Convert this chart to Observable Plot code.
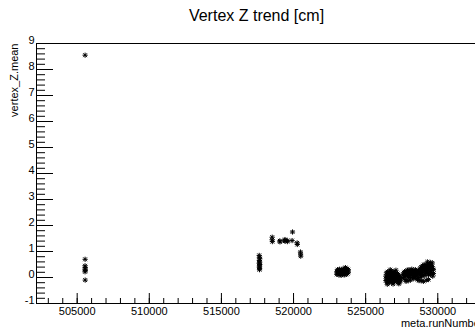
<!DOCTYPE html>
<html>
<head>
<meta charset="utf-8">
<script src="https://cdn.jsdelivr.net/npm/d3@7"></script>
<script src="https://cdn.jsdelivr.net/npm/@observablehq/plot@0.6"></script>
<style>
  html, body { margin: 0; padding: 0; background: #fff; overflow: hidden; width: 475px; height: 331px; }
  #wrap { position: relative; width: 475px; height: 331px; overflow: hidden; }
  #title { position: absolute; left: 0; top: 8px; width: 513px; text-align: center;
           font: 16px "Liberation Sans", Arial, sans-serif; line-height: 16px; color: #000; }
  #chart { position: absolute; left: 0; top: 0; width: 484px; }
  #chart svg { max-width: none !important; width: 484px; height: 331px; }
</style>
</head>
<body>
<div id="wrap">
  <div id="chart"></div>
  <div id="title">Vertex Z trend [cm]</div>
</div>
<script>
// ---- data ----
const runNumber = [
  // early runs
  505550, 505550, 505545, 505555, 505550, 505560, 505545, 505555,
  // 517.6k column
  517620, 517640, 517660, 517630, 517650, 517620, 517660, 517640, 517630, 517650, 517640,
  // 518.5k - 520.5k row
  518520, 518520, 518530, 519050, 519060, 519390, 519400, 519410, 519560, 519570,
  519930, 519900, 520250, 520260, 520480, 520490, 520500,
  // 523k cluster
  523000, 523000, 523050, 523050, 523100, 523100, 523150, 523150, 523200, 523200,
  523250, 523250, 523300, 523300, 523350, 523350, 523400, 523400, 523450, 523450,
  523500, 523500, 523550, 523550, 523600, 523600, 523650, 523650, 523700, 523700,
  523750, 523750, 523800, 523800,
  // 526.4k - 527.4k
  526400, 526400, 526440, 526440, 526480, 526480, 526520, 526520, 526560, 526560,
  526600, 526600, 526640, 526640, 526680, 526680, 526720, 526720, 526760, 526760,
  526800, 526800, 526840, 526840, 526880, 526880, 526920, 526920, 526960, 526960,
  527000, 527000, 527040, 527040, 527080, 527080, 527120, 527120, 527160, 527160,
  527200, 527200, 527240, 527240, 527280, 527280, 527320, 527320, 527360, 527360,
  527400, 527400, 526500, 526700, 526900, 527100, 527300,
  // 527.6k - 528.75k
  527600, 527600, 527650, 527650, 527700, 527700, 527750, 527750, 527800, 527800,
  527850, 527850, 527900, 527900, 527950, 527950, 528000, 528000, 528050, 528050,
  528100, 528100, 528150, 528150, 528200, 528200, 528250, 528250, 528300, 528300,
  528350, 528350, 528400, 528400, 528450, 528450, 528500, 528500, 528550, 528550,
  528600, 528600, 528650, 528650, 528700, 528700, 528750, 528750,
  // 528.8k - 529.7k
  528800, 528800, 528850, 528850, 528850, 528900, 528900, 528950, 528950,
  529000, 529000, 529000, 529050, 529050, 529100, 529100, 529150, 529150,
  529200, 529200, 529200, 529250, 529250, 529300, 529300, 529350, 529350, 529350,
  529400, 529400, 529450, 529450, 529500, 529500, 529550, 529550, 529600, 529600,
  529650, 529650, 529700, 529700, 529280, 529480, 529620
];
const zMean = [
  8.55, 0.70, 0.45, 0.38, 0.32, 0.27, 0.22, -0.10,
  0.85, 0.78, 0.72, 0.65, 0.60, 0.55, 0.50, 0.45, 0.40, 0.35, 0.30,
  1.55, 1.45, 1.38, 1.41, 1.37, 1.43, 1.40, 1.46, 1.42, 1.38,
  1.75, 1.42, 1.33, 1.27, 0.98, 0.90, 0.82,
  0.22, 0.12, 0.30, 0.18, 0.15, 0.25, 0.28, 0.10, 0.20, 0.32,
  0.14, 0.26, 0.22, 0.08, 0.30, 0.16, 0.12, 0.24, 0.20, 0.28,
  0.35, 0.15, 0.26, 0.10, 0.38, 0.20, 0.30, 0.12, 0.22, 0.34,
  0.28, 0.15, 0.20, 0.30,
  0.05, -0.12, 0.18, -0.05, 0.10, -0.18, 0.22, 0.00, 0.08, -0.15,
  0.15, -0.08, 0.02, -0.20, 0.20, -0.10, 0.12, -0.02, 0.25, -0.14,
  0.06, -0.17, 0.16, -0.06, 0.10, -0.12, 0.22, 0.03, 0.14, -0.09,
  0.20, -0.16, 0.08, -0.04, 0.18, -0.10, 0.12, 0.00, 0.05, -0.13,
  0.15, -0.07, 0.10, -0.18, 0.02, -0.10, 0.08, -0.20, -0.05, -0.15,
  0.00, -0.12, -0.26, 0.30, -0.25, 0.28, -0.24,
  0.12, -0.02, 0.18, 0.05, 0.22, 0.08, 0.15, -0.08, 0.25, -0.15,
  0.20, 0.10, 0.28, 0.05, 0.16, -0.12, 0.30, 0.12, 0.22, 0.00,
  0.26, -0.10, 0.18, 0.08, 0.32, 0.15, 0.24, 0.02, 0.20, -0.05,
  0.28, 0.10, 0.22, 0.04, 0.30, 0.14, 0.18, -0.03, 0.25, 0.06,
  0.20, -0.08, 0.28, 0.12, 0.15, -0.12, 0.22, 0.00,
  0.35, 0.10, 0.40, 0.18, -0.12, 0.30, 0.05, 0.45, 0.22,
  0.38, 0.12, -0.15, 0.50, 0.28, 0.32, 0.08, 0.42, 0.20,
  0.48, 0.25, -0.10, 0.36, 0.15, 0.52, 0.30, 0.40, 0.10, -0.08,
  0.45, 0.22, 0.50, 0.32, 0.38, 0.12, 0.46, 0.26, 0.42, 0.18,
  0.35, 0.05, 0.30, 0.15, 0.60, 0.58, 0.56
];
const xMajorTicks = [505000, 510000, 515000, 520000, 525000, 530000];
const xTickLabels = ["505000", "510000", "515000", "520000", "525000", "530000"];
const yMajorTicks = [-1, 0, 1, 2, 3, 4, 5, 6, 7, 8, 9];
const yTickLabels = ["-1", "0", "1", "2", "3", "4", "5", "6", "7", "8", "9"];
const xMinorTicks = d3.range(503000, 533001, 1000);
const yMinorTicks = d3.range(-1, 9.0001, 0.2).map(v => Math.round(v * 10) / 10);

const xAxisTitle = "meta.runNumber";
const yAxisTitle = "vertex_Z.mean";

const points = runNumber.map((r, i) => ({run: r, z: zMean[i]}));

const W = 484, H = 331, mT = 43, mB = 28, mL = 36, mR = 1;
const frameW = W - mL - mR, frameH = H - mT - mB;

const chart = Plot.plot({
  width: W,
  height: H,
  marginTop: mT,
  marginBottom: mB,
  marginLeft: mL,
  marginRight: mR,
  x: {domain: [502180, 533170], label: null},
  y: {domain: [-1, 9], label: null},
  style: {fontFamily: "'Liberation Sans', Arial, sans-serif", fontSize: "11px", color: "#000", background: "#fff", maxWidth: "none"},
  marks: [
    // inward ticks
    Plot.tickX(xMinorTicks, {x: d => d, stroke: "#000", insetTop: frameH - 5}),
    Plot.tickX(xMajorTicks, {x: d => d, stroke: "#000", insetTop: frameH - 10}),
    Plot.tickY(yMinorTicks, {y: d => d, stroke: "#000", insetRight: frameW - 9}),
    Plot.tickY(yMajorTicks, {y: d => d, stroke: "#000", insetRight: frameW - 17}),
    Plot.frame({stroke: "#000"}),
    // tick labels
    Plot.axisX(xMajorTicks, {anchor: "bottom", tickSize: 0, tickPadding: 4, label: null,
      tickFormat: (d) => xTickLabels[xMajorTicks.indexOf(d)]}),
    Plot.axisY(yMajorTicks, {anchor: "left", tickSize: 0, tickPadding: 2, dy: -3.5, label: null,
      tickFormat: (d) => yTickLabels[yMajorTicks.indexOf(d)]}),
    // axis titles
    Plot.text([xAxisTitle], {frameAnchor: "bottom-right", textAnchor: "end", lineAnchor: "middle", dy: 20, fontSize: 11}),
    Plot.text([yAxisTitle], {frameAnchor: "top-left", rotate: -90, textAnchor: "end", lineAnchor: "middle", dx: -22, fontSize: 11}),
    // markers (ROOT "*" marker = plus + times)
    Plot.dot(points, {x: "run", y: "z", symbol: "plus", r: 1.8, stroke: "#000", strokeWidth: 1}),
    Plot.dot(points, {x: "run", y: "z", symbol: "times", r: 1.9, stroke: "#000", strokeWidth: 1})
  ]
});
chart.style.maxWidth = "none";
document.getElementById("chart").appendChild(chart);
</script>
</body>
</html>
